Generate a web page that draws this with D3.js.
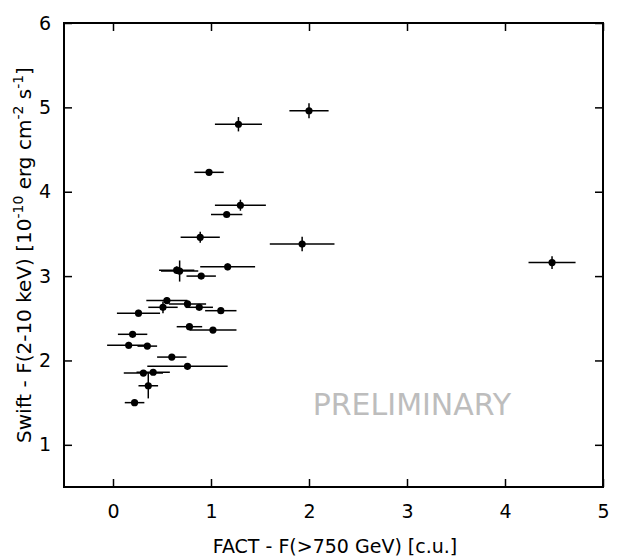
<!DOCTYPE html>
<html>
<head>
<meta charset="utf-8">
<script src="https://cdn.jsdelivr.net/npm/d3@7/dist/d3.min.js"></script>
<style>
  body { margin: 0; background: #fff; }
  text { font-family: "DejaVu Sans", Verdana, sans-serif; }
</style>
</head>
<body>
<div id="chart"></div>
<script>
"use strict";

// FACT flux (x) with errors, Swift flux (y) with errors
const factFlux = [2.00, 1.28, 0.98, 1.30, 1.16, 0.89, 1.93, 1.17, 0.65, 0.68, 0.90,
  0.55, 0.76, 0.51, 0.88, 1.10, 0.26, 0.78, 1.02, 0.20, 0.16, 0.35, 0.60, 0.76,
  0.31, 0.41, 0.36, 0.22, 4.48];
const factErr = [0.20, 0.24, 0.15, 0.26, 0.16, 0.20, 0.33, 0.28, 0.18, 0.19, 0.15,
  0.21, 0.19, 0.15, 0.14, 0.16, 0.22, 0.13, 0.24, 0.15, 0.22, 0.10, 0.15, 0.41,
  0.20, 0.17, 0.10, 0.10, 0.24];
const swiftFlux = [4.96, 4.80, 4.23, 3.84, 3.73, 3.46, 3.38, 3.11, 3.07, 3.06, 3.00,
  2.71, 2.67, 2.63, 2.63, 2.59, 2.56, 2.40, 2.36, 2.31, 2.18, 2.17, 2.04, 1.93,
  1.85, 1.86, 1.70, 1.50, 3.16];
const swiftErr = [0.09, 0.085, 0.03, 0.065, 0.03, 0.065, 0.085, 0.04, 0.045, 0.125, 0.03,
  0.04, 0.03, 0.07, 0.03, 0.03, 0.04, 0.03, 0.03, 0.03, 0.04, 0.03, 0.03, 0.04,
  0.03, 0.03, 0.15, 0.03, 0.075];

const xTicks = [0, 1, 2, 3, 4, 5];
const yTicks = [1, 2, 3, 4, 5, 6];

const width = 640;
const height = 560;
const margin = { top: 23, right: 37, bottom: 73, left: 64 };
const iw = width - margin.left - margin.right;
const ih = height - margin.top - margin.bottom;

const svg = d3.select("#chart").append("svg")
  .attr("width", width)
  .attr("height", height);

const g = svg.append("g").attr("transform", `translate(${margin.left},${margin.top})`);

const x = d3.scaleLinear().domain([-0.5, 5]).range([0, iw]);
const y = d3.scaleLinear().domain([0.5, 6]).range([ih, 0]);

// axes, gnuplot style: inward ticks, mirrored
const tickLen = 8;
g.append("g").attr("transform", `translate(0,${ih})`)
  .call(d3.axisBottom(x).tickValues(xTicks).tickSize(-tickLen).tickPadding(tickLen + 10).tickFormat(d3.format("d")))
  .call(a => a.select(".domain").remove());
g.append("g")
  .call(d3.axisTop(x).tickValues(xTicks).tickSize(-tickLen).tickFormat(""))
  .call(a => a.select(".domain").remove());
g.append("g")
  .call(d3.axisLeft(y).tickValues(yTicks).tickSize(-tickLen).tickPadding(tickLen + 5).tickFormat(d3.format("d")))
  .call(a => a.select(".domain").remove());
g.append("g").attr("transform", `translate(${iw},0)`)
  .call(d3.axisRight(y).tickValues(yTicks).tickSize(-tickLen).tickFormat(""))
  .call(a => a.select(".domain").remove());

g.selectAll(".tick line").attr("stroke", "#000").attr("stroke-width", 1.5);
g.selectAll(".tick text").attr("font-size", 19).attr("fill", "#000")
  .style("font-family", "DejaVu Sans, Verdana, sans-serif");

g.append("rect")
  .attr("width", iw).attr("height", ih)
  .attr("fill", "none").attr("stroke", "#000").attr("stroke-width", 2);

// watermark
g.append("text")
  .attr("x", x(3.05)).attr("y", y(1.35))
  .attr("text-anchor", "middle")
  .attr("font-size", 30)
  .attr("fill", "#bdbdbd")
  .text("PRELIMINARY");

const pts = factFlux.map((v, i) => ({ x: v, xe: factErr[i], y: swiftFlux[i], ye: swiftErr[i] }));

const dots = g.append("g");
dots.selectAll(".xerr").data(pts).enter().append("line")
  .attr("x1", d => x(d.x - d.xe)).attr("x2", d => x(d.x + d.xe))
  .attr("y1", d => y(d.y)).attr("y2", d => y(d.y))
  .attr("stroke", "#000").attr("stroke-width", 1.5);
dots.selectAll(".yerr").data(pts).enter().append("line")
  .attr("x1", d => x(d.x)).attr("x2", d => x(d.x))
  .attr("y1", d => y(d.y - d.ye)).attr("y2", d => y(d.y + d.ye))
  .attr("stroke", "#000").attr("stroke-width", 1.5);
dots.selectAll("circle").data(pts).enter().append("circle")
  .attr("cx", d => x(d.x)).attr("cy", d => y(d.y)).attr("r", 3.6)
  .attr("fill", "#000");

// axis titles
svg.append("text")
  .attr("x", 335).attr("y", 553)
  .attr("text-anchor", "middle").attr("font-size", 19)
  .text("FACT - F(>750 GeV) [c.u.]");

const yl = svg.append("text")
  .attr("transform", `translate(31,255) rotate(-90)`)
  .attr("text-anchor", "middle").attr("font-size", 20);
yl.append("tspan").text("Swift - F(2-10 keV) [10");
yl.append("tspan").attr("dy", -8).attr("font-size", 14).text("-10");
yl.append("tspan").attr("dy", 8).text(" erg cm");
yl.append("tspan").attr("dy", -8).attr("font-size", 14).text("-2");
yl.append("tspan").attr("dy", 8).text(" s");
yl.append("tspan").attr("dy", -8).attr("font-size", 14).text("-1");
yl.append("tspan").attr("dy", 8).text("]");
</script>
</body>
</html>
